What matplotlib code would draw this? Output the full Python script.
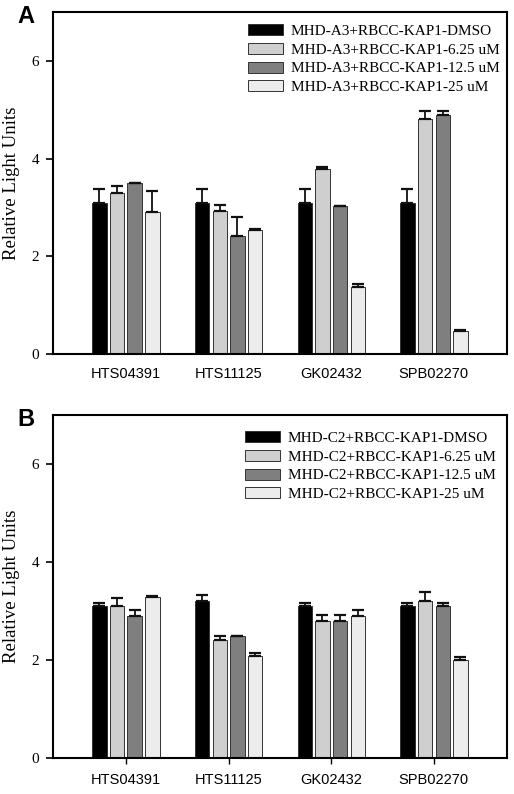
import numpy as np
import matplotlib
matplotlib.use('Agg')
import matplotlib.pyplot as plt
from matplotlib import transforms

# compounds on the x axis
compounds = ['HTS04391', 'HTS11125', 'GK02432', 'SPB02270']
doses = ['DMSO', '6.25 uM', '12.5 uM', '25 uM']

# panel A: MHD-A3 + RBCC-KAP1
a_dmso = [3.10, 3.10, 3.10, 3.10]
a_625 = [3.30, 2.93, 3.78, 4.81]
a_125 = [3.50, 2.42, 3.02, 4.90]
a_25 = [2.90, 2.53, 1.37, 0.47]
a_dmso_err = [0.27, 0.27, 0.27, 0.27]
a_625_err = [0.14, 0.12, 0.05, 0.16]
a_125_err = [0.01, 0.38, 0.02, 0.07]
a_25_err = [0.43, 0.02, 0.07, 0.02]

# panel B: MHD-C2 + RBCC-KAP1
b_dmso = [3.10, 3.20, 3.10, 3.10]
b_625 = [3.10, 2.40, 2.80, 3.20]
b_125 = [2.90, 2.49, 2.80, 3.10]
b_25 = [3.29, 2.09, 2.90, 2.00]
b_dmso_err = [0.07, 0.12, 0.07, 0.07]
b_625_err = [0.17, 0.10, 0.11, 0.19]
b_125_err = [0.12, 0.00, 0.11, 0.07]
b_25_err = [0.01, 0.06, 0.12, 0.06]

colors = ['#000000', '#cfcfcf', '#7f7f7f', '#ececec']
serif = ['Liberation Serif', 'DejaVu Serif']
sans = ['Liberation Sans', 'DejaVu Sans']

fig = plt.figure(figsize=(5.14, 7.94), dpi=100)


def draw_panel(rect, prefix, vals, errs, letter, legend_anchor, xticks_on):
    ax = fig.add_axes(rect)
    x = np.arange(len(compounds))
    step = 0.172
    width = 0.14
    for i in range(4):
        pos = x + (i - 1.5) * step
        ax.bar(pos, vals[i], width, color=colors[i], edgecolor='#333333',
               linewidth=0.7, label=prefix + '+RBCC-KAP1-' + doses[i], zorder=2)
        ax.errorbar(pos, vals[i], yerr=[np.zeros(4), errs[i]], fmt='none',
                    ecolor='#111111', elinewidth=1.3, capsize=4.5, capthick=1.6, zorder=3)
    ax.set_xlim(-0.71, 3.71)
    ax.set_ylim(0, 7)
    ax.set_yticks([0, 2, 4, 6])
    ax.set_yticklabels(['0', '2', '4', '6'], family=serif, fontsize=11)
    ax.set_xticks(x)
    ax.set_xticklabels(compounds, family=sans, fontsize=10.5)
    off = transforms.ScaledTranslation(0.18, 0, fig.dpi_scale_trans)
    for lab in ax.get_xticklabels():
        lab.set_transform(lab.get_transform() + off)
    ax.tick_params(axis='y', direction='out', length=5, width=1.2, pad=5)
    if xticks_on:
        ax.tick_params(axis='x', direction='out', length=4, width=1.0, pad=6.5)
    else:
        ax.tick_params(axis='x', length=0, pad=9.5)
    for s in ax.spines.values():
        s.set_linewidth(1.5)
    ax.set_ylabel('Relative Light Units', family=serif, fontsize=13.5)
    ax.yaxis.set_label_coords(-0.072, 0.5)
    ax.legend(loc='upper left', bbox_to_anchor=legend_anchor, bbox_transform=fig.transFigure,
              frameon=False, prop={'family': serif, 'size': 11}, handlelength=2.3,
              handleheight=0.72, labelspacing=0.33, handletextpad=0.5,
              borderpad=0, borderaxespad=0)
    fig.text(rect[0] - 0.07, rect[1] + rect[3] - 0.006, letter, family=sans,
             fontsize=17, fontweight='bold', ha='left', va='center')
    return ax


draw_panel([0.103, 0.554, 0.883, 0.431], 'MHD-A3',
           [a_dmso, a_625, a_125, a_25], [a_dmso_err, a_625_err, a_125_err, a_25_err],
           'A', (248 / 514, 1 - 24 / 794), False)
draw_panel([0.103, 0.0453, 0.883, 0.432], 'MHD-C2',
           [b_dmso, b_625, b_125, b_25], [b_dmso_err, b_625_err, b_125_err, b_25_err],
           'B', (245 / 514, 1 - 431 / 794), True)

fig.savefig('out.png', dpi=100)
